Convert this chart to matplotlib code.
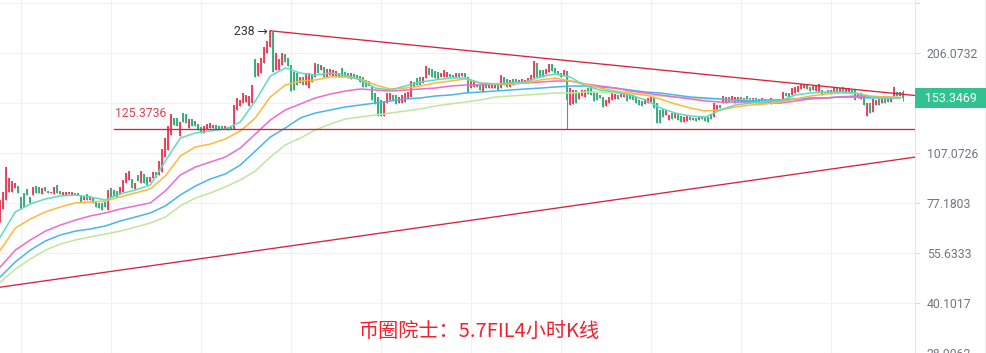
import numpy as np
import matplotlib
matplotlib.use("Agg")
import matplotlib.pyplot as plt
from matplotlib.patches import Rectangle
from matplotlib.lines import Line2D

# ---------------- data (FIL 4h candles, price) ----------------
opens = [
    68.0, 74.1, 78.6, 82.8, 82.8, 85.0, 86.1, 80.2, 82.3, 84.5,
    80.2, 81.2, 86.1, 85.6, 81.8, 85.6, 83.4, 82.3, 81.8, 86.7,
    83.4, 81.2, 81.2, 81.8, 81.2, 82.3, 82.3, 80.7, 78.6, 81.8,
    78.6, 79.6, 77.6, 77.1, 77.1, 77.6, 73.6, 85.0, 83.9, 83.4,
    81.8, 82.8, 87.8, 89.6, 90.2, 84.5, 92.6, 87.8, 93.2, 91.4,
    88.4, 90.8, 94.4, 92.6, 94.4, 104.1, 109.0, 120.3, 134.5, 134.5,
    119.5, 138.9, 138.0, 125.9, 133.6, 131.8, 129.3, 126.8, 121.9, 125.1,
    125.9, 125.9, 128.4, 127.6, 127.6, 125.1, 126.8, 126.8, 125.1, 141.7,
    145.5, 148.3, 149.3, 145.5, 148.3, 197.9, 177.0, 180.5, 192.8, 205.8,
    214.1, 236.2, 184.1, 184.1, 190.3, 204.5, 199.2, 190.3, 181.7, 180.5,
    169.1, 175.9, 166.9, 163.6, 178.2, 175.9, 191.5, 184.1, 187.8, 175.9,
    178.2, 177.0, 177.0, 180.5, 186.6, 181.7, 180.5, 173.6, 179.4, 178.2,
    177.0, 175.9, 172.5, 171.3, 164.7, 158.4, 154.3, 151.3, 136.2, 148.3,
    151.3, 156.3, 156.3, 148.3, 148.3, 149.3, 153.3, 154.3, 170.2, 174.7,
    175.9, 169.1, 174.7, 186.6, 185.3, 182.9, 181.7, 175.9, 175.9, 175.9,
    179.4, 178.2, 175.9, 180.5, 177.0, 180.5, 175.9, 163.6, 164.7, 168.0,
    166.9, 159.4, 169.1, 163.6, 163.6, 163.6, 166.9, 163.6, 175.9, 173.6,
    164.7, 173.6, 173.6, 169.1, 169.1, 169.1, 169.1, 172.5, 174.7, 192.8,
    184.1, 184.1, 179.4, 181.7, 191.5, 186.6, 182.9, 180.5, 177.0, 182.9,
    146.4, 147.4, 161.5, 152.3, 155.3, 154.3, 163.6, 163.6, 159.4, 158.4,
    156.3, 154.3, 145.5, 148.3, 151.3, 152.3, 156.3, 154.3, 154.3, 156.3,
    156.3, 156.3, 154.3, 151.3, 150.3, 147.4, 148.3, 149.3, 153.3, 148.3,
    141.7, 142.6, 137.1, 132.7, 138.9, 134.5, 138.0, 136.2, 131.0, 131.8,
    135.3, 132.7, 134.5, 132.7, 136.2, 135.3, 135.3, 137.1, 135.3, 141.7,
    146.4, 148.3, 148.3, 149.3, 150.3, 148.3, 149.3, 154.3, 149.3, 155.3,
    153.3, 149.3, 153.3, 148.3, 148.3, 152.3, 148.3, 147.4, 151.3, 148.3,
    151.3, 149.3, 158.4, 158.4, 156.3, 158.4, 159.4, 162.6, 163.6, 166.9,
    164.7, 161.5, 160.4, 159.4, 161.5, 158.4, 161.5, 157.3, 159.4, 163.6,
    159.4, 164.7, 158.4, 158.4, 161.5, 162.6, 153.3, 152.3, 154.3, 136.2,
    148.3, 139.8, 146.4, 152.3, 148.3, 153.3, 154.3, 149.3, 154.3, 159.4,
    155.3, 159.4,
]
highs = [
    78.6, 82.8, 97.5, 90.8, 89.0, 87.8, 86.1, 80.2, 82.3, 84.5,
    80.2, 85.6, 86.1, 85.6, 85.0, 85.6, 83.4, 82.8, 85.6, 86.7,
    83.4, 82.8, 82.8, 82.8, 82.8, 82.3, 82.3, 80.7, 80.7, 81.8,
    80.7, 79.6, 77.6, 77.1, 77.1, 77.6, 83.9, 85.0, 83.9, 83.4,
    85.6, 89.6, 93.8, 95.0, 90.2, 87.8, 92.6, 95.0, 93.2, 91.4,
    91.4, 94.4, 94.4, 101.4, 109.7, 117.9, 127.6, 138.0, 134.5, 134.5,
    131.0, 138.9, 138.0, 133.6, 133.6, 131.8, 129.3, 126.8, 127.6, 129.3,
    130.1, 128.4, 128.4, 127.6, 127.6, 127.6, 126.8, 126.8, 146.4, 153.3,
    151.3, 158.4, 156.3, 155.3, 166.9, 197.9, 192.8, 199.2, 214.1, 222.7,
    238.0, 236.2, 205.8, 197.9, 205.8, 204.5, 199.2, 190.3, 181.7, 180.5,
    175.9, 175.9, 180.5, 180.5, 178.2, 192.8, 191.5, 190.3, 187.8, 185.3,
    185.3, 184.1, 182.9, 180.5, 186.6, 181.7, 180.5, 180.5, 179.4, 178.2,
    177.0, 175.9, 172.5, 171.3, 164.7, 158.4, 154.3, 151.3, 149.3, 158.4,
    158.4, 156.3, 156.3, 154.3, 156.3, 158.4, 159.4, 171.3, 170.2, 174.7,
    175.9, 175.9, 189.0, 186.6, 185.3, 182.9, 181.7, 180.5, 184.1, 181.7,
    179.4, 178.2, 180.5, 180.5, 180.5, 180.5, 175.9, 172.5, 170.2, 168.0,
    166.9, 169.1, 169.1, 166.9, 166.9, 166.9, 166.9, 178.2, 175.9, 173.6,
    172.5, 173.6, 173.6, 172.5, 173.6, 172.5, 174.7, 178.2, 195.3, 192.8,
    184.1, 184.1, 185.3, 191.5, 191.5, 186.6, 182.9, 180.5, 184.1, 182.9,
    163.6, 161.5, 161.5, 158.4, 161.5, 161.5, 163.6, 163.6, 159.4, 158.4,
    156.3, 154.3, 151.3, 154.3, 158.4, 157.3, 156.3, 158.4, 158.4, 156.3,
    156.3, 156.3, 154.3, 151.3, 150.3, 152.3, 153.3, 156.3, 153.3, 148.3,
    141.7, 142.6, 141.7, 137.1, 138.9, 138.9, 138.0, 136.2, 135.3, 136.2,
    135.3, 134.5, 134.5, 135.3, 136.2, 135.3, 135.3, 137.1, 148.3, 146.4,
    146.4, 155.3, 154.3, 154.3, 155.3, 154.3, 154.3, 154.3, 153.3, 155.3,
    153.3, 153.3, 153.3, 152.3, 153.3, 152.3, 151.3, 153.3, 151.3, 152.3,
    151.3, 159.4, 158.4, 158.4, 163.6, 164.7, 165.8, 168.0, 168.0, 166.9,
    164.7, 165.8, 165.8, 168.0, 161.5, 159.4, 161.5, 161.5, 164.7, 163.6,
    163.6, 164.7, 163.6, 163.6, 161.5, 162.6, 158.4, 158.4, 154.3, 148.3,
    148.3, 152.3, 151.3, 152.3, 152.3, 153.3, 154.3, 154.3, 164.7, 159.4,
    159.4, 161.5,
]
lows = [
    68.0, 74.1, 78.6, 82.8, 82.8, 85.0, 82.3, 74.1, 75.1, 81.2,
    77.1, 81.2, 82.3, 82.3, 81.8, 83.4, 82.3, 82.3, 81.8, 82.3,
    81.8, 81.2, 81.2, 81.8, 81.2, 81.2, 81.2, 77.6, 78.6, 78.6,
    78.6, 77.1, 75.1, 74.6, 73.6, 75.1, 73.6, 80.2, 80.7, 80.2,
    81.8, 82.8, 87.8, 89.6, 85.0, 84.5, 89.0, 87.8, 87.8, 86.7,
    88.4, 90.8, 91.4, 92.6, 94.4, 104.1, 109.0, 120.3, 128.4, 127.6,
    119.5, 131.0, 130.1, 125.9, 127.6, 127.6, 124.3, 121.9, 121.9, 125.1,
    125.9, 125.9, 125.1, 125.1, 125.1, 125.1, 124.3, 125.1, 125.1, 141.7,
    145.5, 148.3, 149.3, 145.5, 148.3, 175.9, 177.0, 180.5, 192.8, 205.8,
    214.1, 181.7, 184.1, 184.1, 190.3, 194.0, 189.0, 160.4, 161.5, 166.9,
    169.1, 166.9, 166.9, 163.6, 170.2, 175.9, 180.5, 184.1, 175.9, 175.9,
    178.2, 177.0, 177.0, 175.9, 175.9, 175.9, 174.7, 173.6, 174.7, 174.7,
    170.2, 164.7, 164.7, 165.8, 151.3, 147.4, 136.2, 136.2, 136.2, 148.3,
    151.3, 151.3, 147.4, 148.3, 148.3, 149.3, 153.3, 154.3, 164.7, 166.9,
    166.9, 169.1, 174.7, 178.2, 175.9, 174.7, 173.6, 175.9, 175.9, 175.9,
    175.9, 175.9, 175.9, 175.9, 177.0, 175.9, 159.4, 163.6, 164.7, 164.7,
    161.5, 159.4, 163.6, 163.6, 163.6, 163.6, 161.5, 163.6, 166.9, 164.7,
    164.7, 166.9, 169.1, 169.1, 169.1, 169.1, 169.1, 172.5, 174.7, 175.9,
    175.9, 175.9, 179.4, 181.7, 182.9, 180.5, 178.2, 175.9, 177.0, 125.4,
    146.4, 147.4, 148.3, 152.3, 155.3, 154.3, 157.3, 156.3, 150.3, 151.3,
    153.3, 144.5, 145.5, 148.3, 151.3, 152.3, 152.3, 154.3, 154.3, 150.3,
    152.3, 151.3, 148.3, 146.4, 145.5, 147.4, 148.3, 149.3, 143.6, 130.1,
    130.1, 135.3, 137.1, 132.7, 133.6, 134.5, 132.7, 131.0, 131.0, 131.8,
    132.7, 132.7, 131.8, 132.7, 133.6, 131.8, 131.0, 133.6, 135.3, 141.7,
    143.6, 148.3, 148.3, 149.3, 150.3, 148.3, 149.3, 149.3, 149.3, 149.3,
    148.3, 149.3, 148.3, 148.3, 148.3, 148.3, 148.3, 147.4, 148.3, 148.3,
    148.3, 149.3, 155.3, 154.3, 156.3, 158.4, 159.4, 162.6, 163.6, 162.6,
    160.4, 161.5, 160.4, 159.4, 156.3, 158.4, 158.4, 157.3, 159.4, 159.4,
    159.4, 159.4, 158.4, 158.4, 158.4, 151.3, 153.3, 152.3, 146.4, 136.2,
    138.9, 139.8, 146.4, 146.4, 148.3, 148.3, 149.3, 149.3, 154.3, 155.3,
    155.3, 150.3,
]
closes = [
    78.6, 82.8, 97.5, 90.8, 89.0, 87.8, 82.3, 74.1, 75.1, 81.2,
    77.1, 85.6, 82.3, 82.3, 85.0, 83.4, 82.3, 82.8, 85.6, 82.3,
    81.8, 82.8, 82.8, 82.8, 82.8, 81.2, 81.2, 77.6, 80.7, 78.6,
    80.7, 77.1, 75.1, 74.6, 73.6, 75.1, 83.9, 80.2, 80.7, 80.2,
    85.6, 89.6, 93.8, 95.0, 85.0, 87.8, 89.0, 95.0, 87.8, 86.7,
    91.4, 94.4, 91.4, 101.4, 109.7, 117.9, 127.6, 138.0, 128.4, 127.6,
    131.0, 131.0, 130.1, 133.6, 127.6, 127.6, 124.3, 121.9, 127.6, 129.3,
    130.1, 128.4, 125.1, 125.1, 125.1, 127.6, 124.3, 125.1, 146.4, 153.3,
    151.3, 158.4, 156.3, 155.3, 166.9, 175.9, 192.8, 199.2, 214.1, 222.7,
    238.0, 181.7, 205.8, 197.9, 205.8, 194.0, 189.0, 160.4, 161.5, 166.9,
    175.9, 166.9, 180.5, 180.5, 170.2, 192.8, 180.5, 190.3, 175.9, 185.3,
    185.3, 184.1, 182.9, 175.9, 175.9, 175.9, 174.7, 180.5, 174.7, 174.7,
    170.2, 164.7, 164.7, 165.8, 151.3, 147.4, 136.2, 136.2, 149.3, 158.4,
    158.4, 151.3, 147.4, 154.3, 156.3, 158.4, 159.4, 171.3, 164.7, 166.9,
    166.9, 175.9, 189.0, 178.2, 175.9, 174.7, 173.6, 180.5, 184.1, 181.7,
    175.9, 175.9, 180.5, 175.9, 180.5, 175.9, 159.4, 172.5, 170.2, 164.7,
    161.5, 169.1, 163.6, 166.9, 166.9, 166.9, 161.5, 178.2, 166.9, 164.7,
    172.5, 166.9, 169.1, 172.5, 173.6, 172.5, 174.7, 178.2, 195.3, 175.9,
    175.9, 175.9, 185.3, 191.5, 182.9, 180.5, 178.2, 175.9, 184.1, 151.3,
    163.6, 161.5, 148.3, 158.4, 161.5, 161.5, 157.3, 156.3, 150.3, 151.3,
    153.3, 144.5, 151.3, 154.3, 158.4, 157.3, 152.3, 158.4, 158.4, 150.3,
    152.3, 151.3, 148.3, 146.4, 145.5, 152.3, 153.3, 156.3, 143.6, 130.1,
    130.1, 135.3, 141.7, 137.1, 133.6, 138.9, 132.7, 131.0, 135.3, 136.2,
    132.7, 134.5, 131.8, 135.3, 133.6, 131.8, 131.0, 133.6, 148.3, 146.4,
    143.6, 155.3, 154.3, 154.3, 155.3, 154.3, 154.3, 149.3, 153.3, 149.3,
    148.3, 153.3, 148.3, 152.3, 153.3, 148.3, 151.3, 153.3, 148.3, 152.3,
    148.3, 159.4, 155.3, 154.3, 163.6, 164.7, 165.8, 168.0, 168.0, 162.6,
    160.4, 165.8, 165.8, 168.0, 156.3, 159.4, 158.4, 161.5, 164.7, 159.4,
    163.6, 159.4, 163.6, 163.6, 158.4, 151.3, 158.4, 158.4, 146.4, 148.3,
    138.9, 152.3, 151.3, 146.4, 152.3, 148.3, 149.3, 154.3, 164.7, 155.3,
    159.4, 153.3469,
]

# moving averages sampled every 5 candles
ma_step = 5
ma_teal = [61.7, 72.7, 76.6, 79.1, 80.7, 81.2, 80.2, 78.6, 81.8, 83.9,
           86.7, 101.4, 117.9, 121.9, 123.5, 125.1, 131.0, 150.3, 177.0, 186.6,
           180.5, 178.2, 180.5, 178.2, 172.5, 163.6, 161.5, 165.8, 170.2, 172.5,
           174.7, 174.7, 169.1, 168.0, 169.1, 170.2, 175.9, 179.4, 175.9, 165.8,
           161.5, 159.4, 156.3, 151.3, 143.6, 138.9, 136.2, 135.3, 141.7, 146.4,
           148.3, 149.3, 150.3, 156.3, 158.4, 159.4, 159.4, 158.4, 154.3, 153.3, 153.3]
ma_orange = [56.6, 65.4, 69.4, 72.7, 75.1, 77.1, 77.6, 78.1, 80.2, 82.3,
             84.5, 92.0, 104.8, 111.2, 113.4, 117.2, 123.5, 134.5, 154.3, 166.9,
             171.3, 172.5, 175.9, 175.9, 173.6, 166.9, 162.6, 163.6, 165.8, 169.1,
             171.3, 173.6, 169.1, 168.0, 168.0, 169.1, 172.5, 174.7, 171.3, 168.0,
             163.6, 160.4, 158.4, 156.3, 152.3, 147.4, 143.6, 140.8, 141.7, 144.5,
             146.4, 147.4, 149.3, 152.3, 155.3, 157.3, 158.4, 158.4, 155.3, 154.3, 153.3]
ma_pink = [50.7, 56.6, 60.5, 64.1, 66.7, 68.9, 70.8, 72.2, 74.1, 75.6,
           77.1, 83.4, 92.6, 97.5, 100.8, 104.1, 110.5, 121.1, 132.7, 141.7,
           147.4, 153.3, 157.3, 160.4, 162.6, 161.5, 160.4, 161.5, 162.6, 163.6,
           165.8, 166.9, 166.9, 168.0, 168.0, 169.1, 170.2, 171.3, 171.3, 168.0,
           165.8, 163.6, 160.4, 158.4, 156.3, 154.3, 152.3, 150.3, 149.3, 149.3,
           149.3, 148.3, 148.3, 150.3, 152.3, 153.3, 154.3, 155.3, 154.3, 154.3, 153.3]
ma_blue = [47.5, 52.4, 56.6, 60.1, 62.5, 64.1, 65.0, 66.3, 68.5, 70.3,
           72.2, 75.6, 81.2, 86.1, 90.2, 93.2, 98.8, 108.3, 118.7, 125.9,
           134.5, 138.9, 141.7, 144.5, 146.4, 148.3, 150.3, 152.3, 153.3, 155.3,
           156.3, 158.4, 159.4, 160.4, 161.5, 162.6, 163.6, 164.7, 165.8, 165.8,
           164.7, 163.6, 161.5, 159.4, 158.4, 156.3, 154.3, 153.3, 152.3, 151.3,
           150.3, 151.3, 151.3, 152.3, 153.3, 153.3, 154.3, 154.3, 153.3, 153.3, 153.3]
ma_green = [45.9, 50.0, 53.4, 56.6, 58.9, 60.5, 61.7, 62.9, 64.1, 65.8,
            67.6, 70.3, 75.6, 79.6, 82.3, 85.6, 89.6, 95.0, 104.1, 112.7,
            117.9, 124.3, 129.3, 133.6, 135.3, 137.1, 138.9, 140.8, 142.6, 145.5,
            147.4, 149.3, 151.3, 154.3, 155.3, 156.3, 157.3, 158.4, 158.4, 159.4,
            159.4, 158.4, 157.3, 156.3, 155.3, 154.3, 153.3, 152.3, 152.3, 151.3,
            151.3, 150.3, 151.3, 152.3, 153.3, 153.3, 154.3, 154.3, 154.3, 154.3, 154.3]

# drawn levels
peak_label = "238"
peak_value = 238.0
support_level = 125.3736
upper_trend_idx = [90.0, 305.0]
upper_trend_val = [238.0, 155.8]
lower_trend_idx = [-0.1, 305.0]
lower_trend_val = [44.4, 104.1]
last_price = 153.3469
ytick_values = [28.9062, 40.1017, 55.6333, 77.1803, 107.0726, 148.3422, 206.0732, 285.8]
ytick_labels = ["28.9062", "40.1017", "55.6333", "77.1803", "107.0726", "148.3422", "206.0732", ""]
title_text = "币圈院士：5.7FIL4小时K线"

# ---------------- figure ----------------
W, H = 987, 353
fig = plt.figure(figsize=(W / 100, H / 100), dpi=100)
fig.patch.set_facecolor("white")
ax = fig.add_axes([0, 0, 915 / W, 1])
ax.set_facecolor("white")
ax.set_yscale("log")
ax.set_ylim(28.86, 291.2)
ax.set_xlim(-0.1, 304.9)

o = np.array(opens); h = np.array(highs); l = np.array(lows); c = np.array(closes)
idx = np.arange(len(o))
up = c >= o
red, green = "#e8405a", "#36ad7b"
cols = np.where(up, red, green)
hi = np.maximum(h, np.maximum(o, c))
lo = np.minimum(l, np.minimum(o, c))
ax.vlines(idx, lo, hi, colors=cols, lw=0.8, zorder=3)
ax.vlines(idx, np.minimum(o, c), np.maximum(o, c), colors=cols, lw=1.35, zorder=3)

ma_x = np.arange(len(ma_teal)) * ma_step
for vals, col in [(ma_green, "#bde79f"), (ma_blue, "#47b6ee"), (ma_pink, "#f06acb"),
                  (ma_orange, "#ffb93a"), (ma_teal, "#5ddcc3")]:
    ax.plot(ma_x, vals, color=col, lw=1.1, zorder=4, solid_joinstyle="round")

tcol = "#d9223e"
ax.plot(upper_trend_idx, upper_trend_val, color=tcol, lw=0.95, zorder=5)
ax.plot(lower_trend_idx, lower_trend_val, color=tcol, lw=0.95, zorder=5)
ax.plot([38, 305], [support_level, support_level], color=tcol, lw=0.95, zorder=5)
ax.text(38.3, 138.5, f"{support_level:.4f}", color="#e5404f", fontsize=8.8,
        family=["Roboto", "DejaVu Sans"], va="center", ha="left", zorder=6)
ax.text(89.2, 237.6, f"{peak_label} →", color="#333333", fontsize=8.8,
        family=["Roboto", "DejaVu Sans"], va="center", ha="right", zorder=6)

# grid & axis
ax.set_yticks(ytick_values)
ax.set_yticklabels(ytick_labels)
ax.yaxis.set_minor_locator(matplotlib.ticker.NullLocator())
ax.yaxis.tick_right()
ax.set_xticks(np.arange(7, 300, 30))
ax.tick_params(axis="x", length=0, labelbottom=False)
ax.tick_params(axis="y", direction="out", length=3.5, width=0.7, color="#d5d9e0",
               pad=5, labelsize=8.8, labelcolor="#6f7684")
for lab in ax.get_yticklabels():
    lab.set_family(["Roboto", "DejaVu Sans"])
ax.grid(True, color="#eff1f5", lw=0.8, zorder=0)
ax.set_axisbelow(True)
for s in ["left", "top", "bottom"]:
    ax.spines[s].set_visible(False)
ax.spines["right"].set_color("#e3e6eb")
ax.spines["right"].set_linewidth(0.8)

# last-price tag
fig.patches.append(Rectangle((915 / W, 1 - 108 / H), 71 / W, 20 / H,
                             transform=fig.transFigure, facecolor="#32c28f",
                             edgecolor="none", zorder=5))
fig.text(925 / W, 1 - 98 / H, f"{last_price:.4f}", color="white", fontsize=8.9,
         family=["Roboto", "DejaVu Sans"], va="center", ha="left", zorder=6)
fig.lines.append(Line2D([985.5 / W, 985.5 / W], [0, 1], transform=fig.transFigure,
                        color="#eceef2", lw=0.8))

fig.text(479 / W, 1 - 331.5 / H, title_text, color="#f3202e", fontsize=14.5,
         family=["Noto Sans CJK SC", "DejaVu Sans"], va="center", ha="center")

fig.savefig("out.png", dpi=100, facecolor="white")
